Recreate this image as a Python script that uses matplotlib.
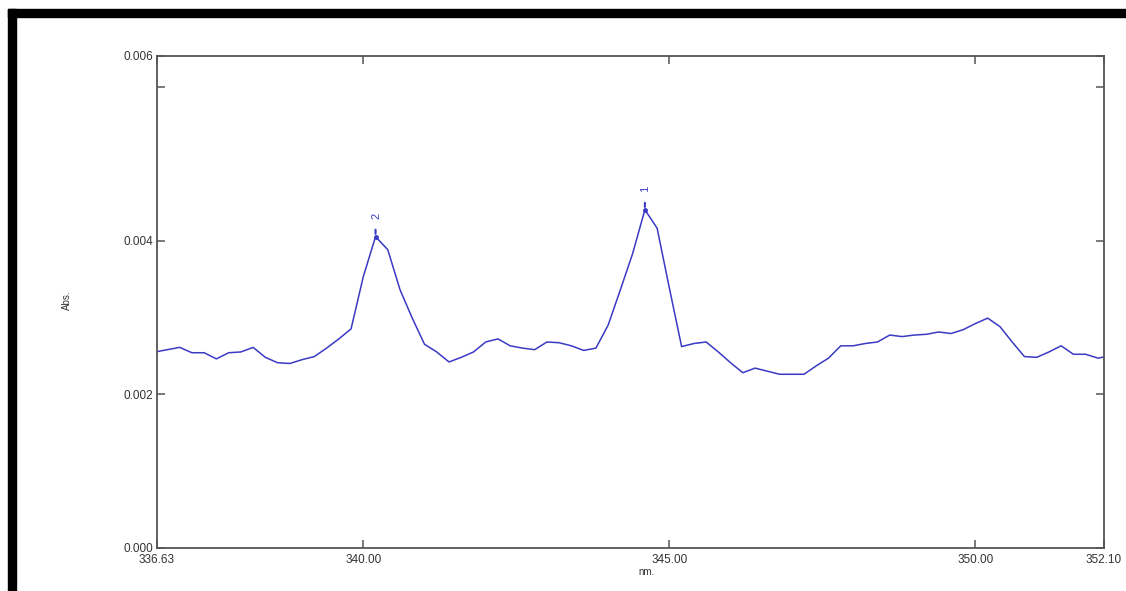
import numpy as np
import matplotlib
matplotlib.use("Agg")
import matplotlib.pyplot as plt
from matplotlib.patches import Rectangle

plt.rcParams['font.family'] = ['Liberation Sans', 'DejaVu Sans']

# wavelength grid (nm), 0.2 nm step
wavelength = np.round(np.arange(336.6, 352.21, 0.2), 2)
absorbance = [
    0.00255, 0.00258, 0.00261, 0.00254, 0.00254, 0.00246, 0.00254, 0.00255,
    0.00261, 0.00248, 0.00241, 0.00240, 0.00245, 0.00249, 0.00260, 0.00272,
    0.00285, 0.00353, 0.00405, 0.00388, 0.00336, 0.00299, 0.00265, 0.00255,
    0.00242, 0.00248, 0.00255, 0.00268, 0.00272, 0.00263, 0.00260, 0.00258,
    0.00268, 0.00267, 0.00263, 0.00257, 0.00260, 0.00290, 0.00336, 0.00383,
    0.00440, 0.00416, 0.00338, 0.00262, 0.00266, 0.00268, 0.00255, 0.00241,
    0.00228, 0.00234, 0.00230, 0.00226, 0.00226, 0.00226, 0.00237, 0.00247,
    0.00263, 0.00263, 0.00266, 0.00268, 0.00277, 0.00275, 0.00277, 0.00278,
    0.00281, 0.00279, 0.00284, 0.00292, 0.00299, 0.00288, 0.00268, 0.00249,
    0.00248, 0.00255, 0.00263, 0.00252, 0.00252, 0.00247, 0.00250,
]
peak_labels = ['1', '2']
peak_wl = [344.6, 340.2]

x_min, x_max = 336.63, 352.10
y_min, y_max = 0.0, 0.0064
x_ticks = [336.63, 340.0, 345.0, 350.0, 352.10]
x_ticklabels = ['336.63', '340.00', '345.00', '350.00', '352.10']
y_ticks = [0.0, 0.002, 0.004, 0.006, 0.0064]
y_ticklabels = ['0.000', '0.002', '0.004', '', '0.006']

line_col = '#3a3ac4'
axis_col = '#555555'
txt_col = '#333333'

fig = plt.figure(figsize=(11.26, 5.91), dpi=100)
# black frame (top and left edges)
fig.patches.append(Rectangle((8/1126, 0), 8/1126, 1 - 9/591, transform=fig.transFigure,
                             color='black', zorder=0))
fig.patches.append(Rectangle((8/1126, 1 - 17/591), 1 - 8/1126, 8/591, transform=fig.transFigure,
                             color='black', zorder=0))

ax = fig.add_axes([157/1126, 43/591, 947/1126, 492/591])
ax.plot(wavelength, absorbance, color=line_col, lw=1.1)

# peak picks
for lab, wl in zip(peak_labels, peak_wl):
    i = int(np.argmin(np.abs(wavelength - wl)))
    ax.annotate('', xy=(wavelength[i], absorbance[i]), xytext=(0, 7), textcoords='offset points',
                arrowprops=dict(arrowstyle='-', color=line_col, lw=1.5))
    ax.plot(wavelength[i], absorbance[i], 'o', ms=2.5, color=line_col)
    ax.annotate(lab, xy=(wavelength[i], absorbance[i]), xytext=(0.5, 13), textcoords='offset points',
                rotation=90, ha='center', va='bottom', fontsize=8, color=line_col)

ax.set_xlim(x_min, x_max)
ax.set_ylim(y_min, y_max)
ax.set_xticks(x_ticks)
ax.set_xticklabels(x_ticklabels)
ax.set_yticks(y_ticks)
ax.set_yticklabels(y_ticklabels)
ax.tick_params(direction='in', length=6, width=1.1, color=axis_col, labelsize=8.5,
               labelcolor=txt_col, top=True, right=True)
ax.tick_params(axis='x', pad=4)
ax.tick_params(axis='y', pad=3)
for s in ax.spines.values():
    s.set_color(axis_col)
    s.set_linewidth(1.3)

ax.set_xlabel('nm.', fontsize=7, color=txt_col)
ax.xaxis.set_label_coords(0.517, -0.038)
ax.set_ylabel('Abs.', fontsize=7, color=txt_col)
ax.yaxis.set_label_coords(-0.09, 0.504)

fig.savefig('out.png', dpi=100)
